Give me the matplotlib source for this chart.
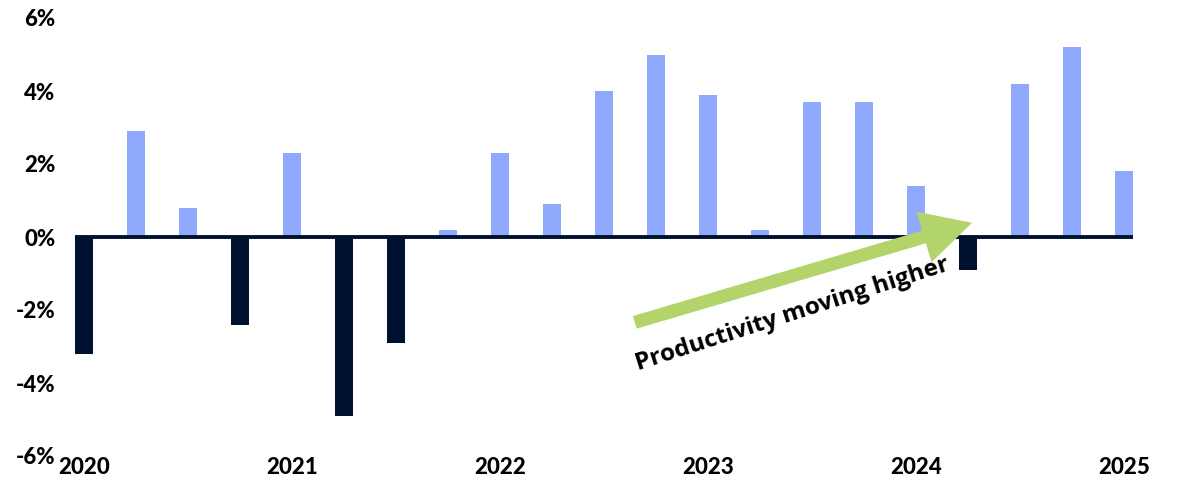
import matplotlib.pyplot as plt
from matplotlib.patches import FancyArrowPatch

# quarterly productivity growth, 2020 Q1 .. 2025 Q1
quarters = list(range(21))
values = [-3.2, 2.9, 0.8, -2.4,
          2.3, -4.9, -2.9, 0.2,
          2.3, 0.9, 4.0, 5.0,
          3.9, 0.2, 3.7, 3.7,
          1.4, -0.9, 4.2, 5.2,
          1.8]
year_pos = [0, 4, 8, 12, 16, 20]
year_labels = ["2020", "2021", "2022", "2023", "2024", "2025"]
y_ticks = [6, 4, 2, 0, -2, -4, -6]

light = "#8FAAFC"
dark = "#00112F"

fig = plt.figure(figsize=(11.78, 4.93), dpi=100)
ax = fig.add_axes([75 / 1178, 37 / 493, 1058 / 1178, 438 / 493])

colors = [light if v >= 0 else dark for v in values]
ax.bar(quarters, values, width=0.35, color=colors, zorder=2)
ax.axhline(0, color=dark, lw=2.8, zorder=3)

ax.set_xlim(-0.175, 20.175)
ax.set_ylim(-6, 6)
ax.set_yticks(y_ticks)
ax.set_yticklabels([f"{t}%" for t in y_ticks])
ax.set_xticks(year_pos)
ax.set_xticklabels(year_labels)
for s in ax.spines.values():
    s.set_visible(False)
ax.tick_params(length=0)
ax.tick_params(axis="y", pad=14)
ax.tick_params(axis="x", pad=1)
for lab in ax.get_xticklabels() + ax.get_yticklabels():
    lab.set_fontfamily("Lato")
    lab.set_fontweight("black")
    lab.set_fontsize(16)
    lab.set_color("black")

arrow = FancyArrowPatch((10.54, -2.36), (17.13, 0.41),
                        arrowstyle="simple,head_length=3.6,head_width=3.8,tail_width=0.95",
                        mutation_scale=10, color="#B3D46A", lw=0, zorder=4)
ax.add_patch(arrow)
ax.text(13.62, -2.13, "Productivity moving higher", rotation=17.8,
        rotation_mode="anchor", ha="center", va="center",
        fontsize=17.5, fontweight="bold", family="Open Sans", color="black", zorder=5)

fig.savefig("out.png", dpi=100)
